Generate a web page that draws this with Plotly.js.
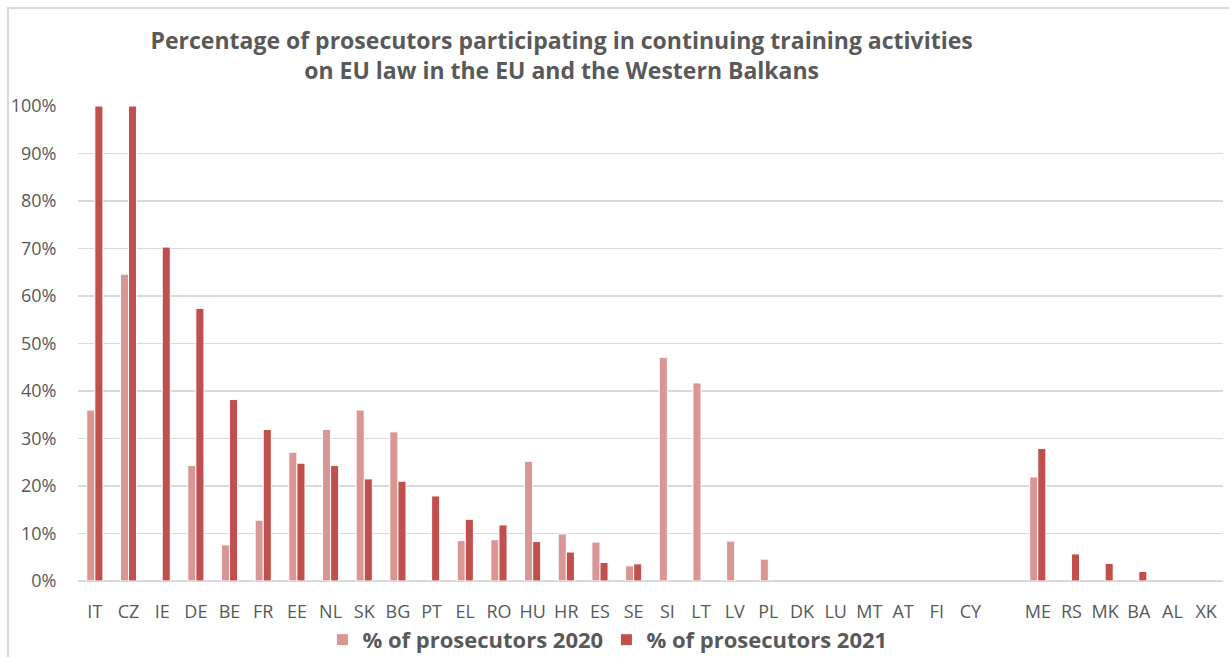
<!DOCTYPE html>
<html>
<head>
<meta charset="utf-8">
<script src="https://cdn.plot.ly/plotly-3.0.1.min.js"></script>
<style>
  html, body { margin: 0; padding: 0; background: #fff; }
  #chart { width: 1229px; height: 657px; }
  #frame { position: absolute; left: 7px; top: 7px; width: 1240px; height: 700px;
           border-left: 2px solid #d9d9d9; border-top: 2px solid #d9d9d9; pointer-events: none; }
</style>
</head>
<body>
<div id="chart"></div>
<div id="frame"></div>
<script>
const categories = ["IT","CZ","IE","DE","BE","FR","EE","NL","SK","BG","PT","EL","RO","HU","HR","ES","SE","SI","LT","LV","PL","DK","LU","MT","AT","FI","CY"," ","ME","RS","MK","BA","AL","XK"];
const values2020 = [0.36,0.646,null,0.243,0.076,0.128,0.271,0.319,0.360,0.314,null,0.085,0.087,0.252,0.099,0.082,0.032,0.471,0.417,0.084,0.046,null,null,null,null,null,null,null,0.219,null,null,null,null,null];
const values2021 = [1.0,1.0,0.703,0.574,0.382,0.319,0.248,0.243,0.215,0.210,0.179,0.130,0.118,0.083,0.061,0.039,0.036,null,null,null,null,null,null,null,null,null,null,null,0.279,0.057,0.037,0.020,null,null];
const seriesNames = ["% of prosecutors 2020","% of prosecutors 2021"];
const titleText = "Percentage of prosecutors participating in continuing training activities<br>on EU law in the EU and the Western Balkans";

const textColor = "#595959";
const fontFam = "'Open Sans', 'Noto Sans', sans-serif";

const traces = [
  { type: "bar", name: seriesNames[0], x: categories, y: values2020,
    marker: { color: "#D99694", line: { color: "#ffffff", width: 1 } }, hoverinfo: "x+y" },
  { type: "bar", name: seriesNames[1], x: categories, y: values2021,
    marker: { color: "#C0504D", line: { color: "#ffffff", width: 1 } }, hoverinfo: "x+y" }
];

const layout = {
  width: 1229, height: 657,
  margin: { l: 78, r: 6, t: 106, b: 76, pad: 0, autoexpand: false },
  paper_bgcolor: "#ffffff", plot_bgcolor: "#ffffff",
  barmode: "group", bargap: 0.52, bargroupgap: 0,
  title: { text: titleText, x: 0.457, xanchor: "center", y: 0.925, yanchor: "middle",
           font: { family: fontFam, size: 23, color: textColor, weight: "bold" } },
  xaxis: { type: "category", tickfont: { family: fontFam, size: 18, color: textColor },
           showgrid: false, showline: false, ticks: "outside", ticklen: 14, tickcolor: "rgba(0,0,0,0)",
           fixedrange: true, automargin: false },
  yaxis: { range: [0, 1], dtick: 0.1, tick0: 0, tickformat: ".0%",
           tickfont: { family: fontFam, size: 18, color: textColor },
           gridcolor: "#d9d9d9", gridwidth: 1.5, zeroline: true, zerolinecolor: "#d9d9d9", zerolinewidth: 2,
           showline: false, ticks: "outside", ticklen: 17, tickcolor: "rgba(0,0,0,0)",
           fixedrange: true, automargin: false },
  showlegend: true,
  legend: { orientation: "h", x: 0.4615, xanchor: "center", yref: "container", y: 0.026, yanchor: "middle",
            bgcolor: "rgba(0,0,0,0)",
            font: { family: fontFam, size: 22, color: textColor, weight: "bold" },
            itemwidth: 30, traceorder: "normal", entrywidth: 239 },
};

Plotly.newPlot("chart", traces, layout, { displayModeBar: false, staticPlot: true });
</script>
</body>
</html>
